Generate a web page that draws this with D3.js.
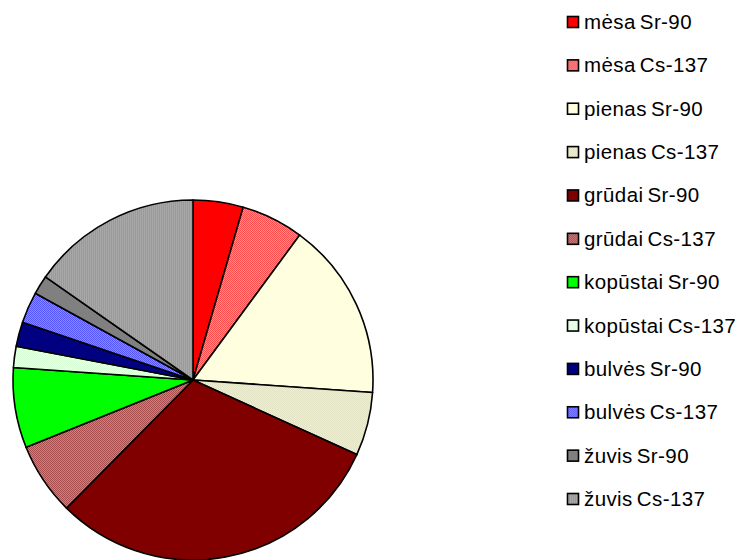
<!DOCTYPE html>
<html>
<head>
<meta charset="utf-8">
<script src="https://cdn.jsdelivr.net/npm/d3@7"></script>
<style>
  body { margin: 0; background: #fff; }
  svg { display: block; }
  .legend text { font-family: "Liberation Sans", Arial, sans-serif; font-size: 20.5px; letter-spacing: 0.4px; word-spacing: -2px; fill: #000; }
</style>
</head>
<body>
<svg id="chart" width="742" height="560"></svg>
<script>
// categories and values (share of the pie, %)
var labels = ["mėsa Sr-90", "mėsa Cs-137", "pienas Sr-90", "pienas Cs-137",
              "grūdai Sr-90", "grūdai Cs-137", "kopūstai Sr-90", "kopūstai Cs-137",
              "bulvės Sr-90", "bulvės Cs-137", "žuvis Sr-90", "žuvis Cs-137"];
var values = [4.5, 5.6, 16.0, 5.7, 30.6, 6.5, 7.2, 1.9, 2.2, 2.8, 1.7, 15.3];
// base fill, and second colour for the textured ones (null = solid)
var colors  = ["#ff0000", "#ff4d4d", "#ffffe0", "#e2e2c4", "#800000", "#a84e4e",
               "#00ff00", "#d6ffd6", "#000080", "#5555ff", "#808080", "#9a9a9a"];
var colors2 = [null, "#ff9090", null, "#eeeed6", null, "#cc8080",
               null, "#f4fff4", null, "#8c8cff", null, "#a8a8a8"];

var svg = d3.select("#chart");
var defs = svg.append("defs");

colors2.forEach(function(c2, i) {
  if (!c2) return;
  var p = defs.append("pattern")
      .attr("id", "pat" + i)
      .attr("patternUnits", "userSpaceOnUse")
      .attr("width", 2).attr("height", 2);
  p.append("rect").attr("width", 2).attr("height", 2).attr("fill", colors[i]);
  if (i == 11) {
    // vertical stripes for žuvis Cs-137
    p.append("rect").attr("x", 1).attr("width", 1).attr("height", 2).attr("fill", c2);
  } else {
    p.append("rect").attr("width", 1).attr("height", 1).attr("fill", c2);
    p.append("rect").attr("x", 1).attr("y", 1).attr("width", 1).attr("height", 1).attr("fill", c2);
  }
});

function fillOf(i) { return colors2[i] ? "url(#pat" + i + ")" : colors[i]; }

var cx = 193, cy = 380, radius = 180;

var pie = d3.pie().sort(null).value(function(d) { return d; });
var arc = d3.arc().innerRadius(0).outerRadius(radius);

var g = svg.append("g").attr("transform", "translate(" + cx + "," + cy + ")");

g.selectAll("path")
  .data(pie(values))
  .enter().append("path")
    .attr("d", arc)
    .attr("fill", function(d, i) { return fillOf(i); })
    .attr("stroke", "#000")
    .attr("stroke-width", 1.6)
    .attr("stroke-linejoin", "round");

// legend
var legY = d3.scalePoint().domain(labels).range([22, 499]);

var leg = svg.append("g").attr("class", "legend")
  .selectAll("g")
  .data(labels)
  .enter().append("g")
    .attr("transform", function(d) { return "translate(567," + legY(d) + ")"; });

leg.append("rect")
    .attr("x", 0.5).attr("y", -5.5)
    .attr("width", 11).attr("height", 11)
    .attr("fill", function(d, i) { return fillOf(i); })
    .attr("stroke", "#000")
    .attr("stroke-width", 1.6);

leg.append("text")
    .attr("x", 17)
    .attr("y", 7)
    .text(function(d) { return d; });
</script>
</body>
</html>
